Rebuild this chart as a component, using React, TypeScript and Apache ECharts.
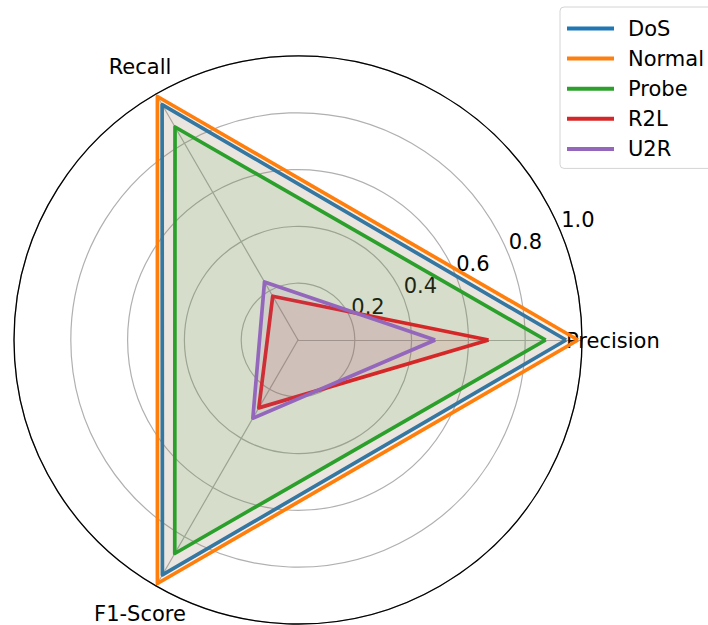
import React, { useEffect, useRef } from "react";
import * as echarts from "echarts";

// Metric axes of the radar, counter-clockwise from the right
const metrics = ["Precision", "Recall", "F1-Score"];

// Per-class scores (Precision, Recall, F1-Score)
const classNames = ["DoS", "Normal", "Probe", "R2L", "U2R"];
const dosScores = [0.944, 0.957, 0.955];
const normalScores = [0.986, 0.99, 0.99];
const probeScores = [0.872, 0.866, 0.868];
const r2lScores = [0.671, 0.178, 0.276];
const u2rScores = [0.483, 0.236, 0.318];

// Radial tick labels
const radialTicks = [0.2, 0.4, 0.6, 0.8, 1.0];

const palette = ["#1f77b4", "#ff7f0e", "#2ca02c", "#d62728", "#9467bd"];

const CX = 298;
const CY = 340;
const R = 284;
const FONT = "'DejaVu Sans', sans-serif";
const FS = 21;

export default function App() {
  const ref = useRef<HTMLDivElement>(null);

  useEffect(() => {
    if (!ref.current) return;
    const chart = echarts.init(ref.current, null, { renderer: "svg" });
    const scores = [dosScores, normalScores, probeScores, r2lScores, u2rScores];

    const tickAngle = (22.5 * Math.PI) / 180;
    const tickTexts = radialTicks.map((t) => ({
      type: "text",
      x: CX + R * t * Math.cos(tickAngle) + 17.5,
      y: CY - R * t * Math.sin(tickAngle) - 11,
      style: {
        text: t.toFixed(1),
        font: `${FS}px ${FONT}`,
        fill: "#000",
        textAlign: "center",
        textVerticalAlign: "middle",
      },
      z: 1,
    }));

    const nameTexts = [
      { x: 566, y: 341, align: "left" },
      { x: 140, y: 67, align: "center" },
      { x: 140, y: 614, align: "center" },
    ].map((p, i) => ({
      type: "text",
      x: p.x,
      y: p.y,
      style: {
        text: metrics[i],
        font: `${FS}px ${FONT}`,
        fill: "#000",
        textAlign: p.align,
        textVerticalAlign: "middle",
      },
      z: 1,
    }));

    chart.setOption({
      animation: false,
      backgroundColor: "#ffffff",
      color: palette,
      legend: {
        orient: "vertical",
        left: 560,
        top: 7,
        data: classNames,
        icon: "rect",
        itemWidth: 47,
        itemHeight: 4,
        itemGap: 9.1,
        padding: [11, 30, 9, 7],
        backgroundColor: "#ffffff",
        borderColor: "#d4d4d4",
        borderWidth: 1,
        borderRadius: 4,
        textStyle: {
          fontFamily: FONT,
          fontSize: FS,
          color: "#000",
          lineHeight: 21,
          padding: [0, 0, 0, 9],
        },
      },
      radar: {
        center: [CX, CY],
        radius: R,
        startAngle: 0,
        shape: "circle",
        splitNumber: 5,
        indicator: metrics.map((m) => ({ name: m, min: 0, max: 1 })),
        axisName: { show: false },
        axisLine: { lineStyle: { color: "#b0b0b0", width: 1.2 } },
        splitLine: { lineStyle: { color: "#b0b0b0", width: 1.2 } },
        splitArea: { show: false },
      },
      graphic: [
        ...tickTexts,
        ...nameTexts,
        {
          type: "circle",
          shape: { cx: CX, cy: CY, r: R },
          style: { fill: "none", stroke: "#000", lineWidth: 1.3 },
          z: 1,
        },
      ],
      series: [
        {
          type: "radar",
          symbol: "none",
          data: classNames.map((name, i) => ({
            name,
            value: scores[i],
            lineStyle: { color: palette[i], width: 3.7, join: "round" },
            areaStyle: { color: palette[i], opacity: 0.1 },
            itemStyle: { color: palette[i] },
          })),
        },
      ],
    });

    return () => chart.dispose();
  }, []);

  return (
    <div
      ref={ref}
      style={{ position: "fixed", left: 0, top: 0, width: 708, height: 625 }}
    />
  );
}
